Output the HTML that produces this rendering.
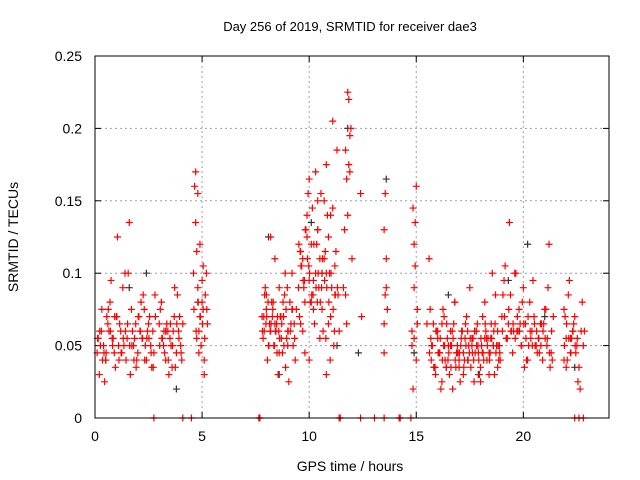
<!DOCTYPE html>
<html><head><meta charset="utf-8">
<style>
body{margin:0;background:#fff;}
svg{display:block;font-family:"Liberation Sans",sans-serif;}
</style></head>
<body>
<svg id="chart" width="640" height="480">
<text x="350" y="31" font-size="13" text-anchor="middle">Day 256 of 2019, SRMTID for receiver dae3</text>
<text x="18" y="237" font-size="14" text-anchor="middle" transform="rotate(-90 18 237)">SRMTID / TECUs</text>
<text x="350" y="471" font-size="14" text-anchor="middle">GPS time / hours</text>
<g id="grid"></g>
<g id="ticks"></g>
<g id="black"></g>
<g id="red"></g>
<rect x="95" y="56" width="514" height="362" fill="none" stroke="#000" stroke-width="1"/>
</svg>
<script>
const xTicks=[0,5,10,15,20];
const yTicks=[0,0.05,0.1,0.15,0.2,0.25];
const yTickLabels=["0","0.05","0.1","0.15","0.2","0.25"];
const redT=[0.1,0.2,0.3,0.4,0.5,0.6,0.7,0.8,0.9,1.0,1.1,1.2,1.3,1.4,1.5,1.6,1.7,1.8,1.9,2.0,2.1,2.2,2.3,2.4,2.5,2.6,2.7,2.8,0.15,0.35,0.55,0.75,0.95,1.15,1.35,1.55,1.75,1.95,2.15,2.35,2.55,2.75,0.25,0.65,1.05,1.45,1.85,2.25,2.65,0.45,0.85,1.25,1.65,2.05,2.45,
3.0,3.1,3.2,3.3,3.4,3.5,3.6,3.7,3.8,3.9,4.0,4.1,3.05,3.25,3.45,3.65,3.85,4.05,3.15,3.55,3.95,3.35,3.75,
4.6,4.65,4.7,4.75,4.8,4.85,4.9,4.95,5.0,5.05,5.1,5.15,5.2,5.25,4.7,4.8,4.9,5.0,5.1,4.75,4.85,5.05,
7.8,7.9,8.0,8.1,8.2,8.3,8.4,8.5,8.6,8.7,8.8,8.9,9.0,9.1,9.2,9.3,9.4,7.85,7.95,8.05,8.15,8.25,8.35,8.45,8.55,8.65,8.75,8.85,8.95,9.05,9.15,9.25,9.35,8.0,8.2,8.4,8.6,8.8,9.0,
9.5,9.6,9.7,9.8,9.9,10.0,10.1,10.2,10.3,10.4,10.5,10.6,10.7,10.8,10.9,11.0,11.1,11.2,11.3,11.4,9.55,9.65,9.75,9.85,9.95,10.05,10.15,10.25,10.35,10.45,10.55,10.65,10.75,10.85,10.95,11.05,11.15,11.25,11.35,9.6,9.8,10.0,10.2,10.4,10.6,10.8,11.0,11.2,9.7,9.9,10.1,10.3,10.5,10.7,10.9,11.1,10.0,10.4,10.8,
11.6,11.65,11.7,11.75,11.8,11.85,11.9,11.95,12.0,11.7,11.8,11.9,11.75,11.85,12.4,12.45,
13.5,13.55,13.6,13.5,13.55,13.6,13.65,13.5,
14.8,14.85,14.9,14.95,15.0,15.05,14.9,15.0,14.85,14.95,15.05,14.9,
15.6,15.7,15.8,15.9,16.0,16.1,16.2,16.3,16.4,16.5,16.6,16.7,16.8,16.9,17.0,17.1,17.2,17.3,17.4,17.5,17.6,17.7,17.8,17.9,18.0,18.1,18.2,18.3,18.4,18.5,18.6,18.7,18.8,18.9,15.65,15.75,15.85,15.95,16.05,16.15,16.25,16.35,16.45,16.55,16.65,16.75,16.85,16.95,17.05,17.15,17.25,17.35,17.45,17.55,17.65,17.75,17.85,17.95,18.05,18.15,18.25,18.35,18.45,18.55,18.65,18.75,18.85,16.0,16.4,16.8,17.2,17.6,18.0,18.4,18.8,16.2,16.6,17.0,17.4,17.8,18.2,18.6,
19.0,19.1,19.2,19.3,19.4,19.5,19.6,19.7,19.8,19.9,20.0,20.1,20.2,20.3,20.4,20.5,20.6,20.7,20.8,20.9,21.0,21.1,21.2,21.3,21.4,19.05,19.25,19.45,19.65,19.85,20.05,20.25,20.45,20.65,20.85,21.05,21.25,19.15,19.55,19.95,20.35,20.75,21.15,19.35,19.75,20.15,20.55,20.95,21.35,
21.9,22.0,22.1,22.2,22.3,22.4,22.5,22.6,22.7,22.8,21.95,22.05,22.15,22.25,22.35,22.45,22.55,22.65,22.75,22.85,22.0,22.2,22.4,22.6,22.8,
2.75,4.1,4.5,7.65,7.7,11.4,11.45,12.4,13.05,13.5,14.2,14.25,14.75,14.8,15.5,21.9,
0.12,0.32,0.52,0.72,0.92,1.12,1.32,1.52,1.72,1.92,2.12,2.32,2.52,2.72,0.22,0.42,0.62,0.82,1.02,1.22,1.42,1.62,1.82,2.02,2.22,2.42,2.62,2.82,
3.02,3.22,3.42,3.62,3.82,4.02,3.12,3.32,3.52,3.72,3.92,
4.62,4.72,4.82,4.92,5.02,5.12,5.22,
7.82,7.92,8.02,8.12,8.22,8.32,8.42,8.52,8.62,8.72,8.82,8.92,9.02,9.12,9.22,9.32,7.88,7.98,8.08,8.18,8.28,8.38,8.48,8.58,8.68,8.78,8.88,8.98,
9.52,9.62,9.72,9.82,9.92,10.02,10.12,10.22,10.32,10.42,10.52,10.62,10.72,10.82,10.92,11.02,11.12,11.22,11.32,9.58,9.78,9.98,10.18,10.38,10.58,10.78,10.98,11.18,
15.62,15.72,15.82,15.92,16.02,16.12,16.22,16.32,16.42,16.52,16.62,16.72,16.82,16.92,17.02,17.12,17.22,17.32,17.42,17.52,17.62,17.72,17.82,17.92,18.02,18.12,18.22,18.32,18.42,18.52,18.62,18.72,18.82,18.92,15.68,15.88,16.08,16.28,16.48,16.68,16.88,17.08,17.28,17.48,17.68,17.88,18.08,18.28,18.48,18.68,18.88,
19.02,19.12,19.22,19.32,19.42,19.52,19.62,19.72,19.82,19.92,20.02,20.12,20.22,20.32,20.42,20.52,20.62,20.72,20.82,20.92,21.02,21.12,21.22,21.32,
21.92,22.02,22.12,22.22,22.32,22.42,22.52,22.62,22.72,22.82];
const redV=[0.045,0.03,0.06,0.05,0.04,0.065,0.08,0.055,0.045,0.07,0.05,0.06,0.09,0.1,0.055,0.135,0.075,0.05,0.065,0.045,0.06,0.055,0.075,0.04,0.065,0.05,0.06,0.085,0.055,0.04,0.07,0.095,0.035,0.065,0.05,0.1,0.06,0.04,0.08,0.05,0.07,0.045,0.05,0.06,0.125,0.04,0.055,0.085,0.035,0.025,0.055,0.045,0.03,0.07,0.06,
0.065,0.08,0.05,0.04,0.06,0.055,0.035,0.07,0.045,0.06,0.05,0.065,0.075,0.045,0.03,0.06,0.085,0.04,0.055,0.05,0.07,0.065,0.035,
0.1,0.16,0.135,0.115,0.09,0.06,0.07,0.05,0.095,0.075,0.04,0.085,0.1,0.065,0.17,0.155,0.12,0.08,0.03,0.055,0.045,0.105,
0.07,0.06,0.085,0.05,0.125,0.075,0.065,0.045,0.09,0.055,0.07,0.035,0.06,0.08,0.1,0.065,0.075,0.055,0.09,0.04,0.065,0.08,0.05,0.06,0.03,0.07,0.045,0.085,0.055,0.025,0.065,0.05,0.04,0.075,0.06,0.11,0.045,0.07,0.05,
0.09,0.065,0.11,0.08,0.14,0.165,0.12,0.095,0.17,0.13,0.11,0.075,0.15,0.1,0.125,0.14,0.205,0.085,0.185,0.06,0.07,0.105,0.09,0.13,0.155,0.08,0.145,0.065,0.12,0.09,0.155,0.06,0.115,0.14,0.1,0.09,0.05,0.115,0.085,0.115,0.045,0.095,0.075,0.13,0.1,0.175,0.07,0.105,0.06,0.125,0.08,0.1,0.055,0.11,0.065,0.145,0.04,0.15,0.03,0.09,
0.13,0.185,0.165,0.225,0.22,0.17,0.2,0.11,0.085,0.14,0.195,0.065,0.175,0.155,0.07,0.045,
0.155,0.11,0.13,0.085,0.09,0.075,0.065,0.06,
0.145,0.12,0.105,0.16,0.065,0.09,0.04,0.02,0.135,0.075,0.055,0.11,
0.04,0.065,0.03,0.055,0.045,0.025,0.07,0.035,0.05,0.06,0.02,0.08,0.045,0.035,0.055,0.03,0.065,0.04,0.09,0.05,0.025,0.06,0.045,0.035,0.07,0.055,0.04,0.03,0.065,0.05,0.085,0.06,0.045,0.075,0.05,0.035,0.06,0.045,0.02,0.075,0.04,0.055,0.03,0.05,0.065,0.035,0.045,0.025,0.06,0.04,0.07,0.05,0.035,0.055,0.045,0.065,0.03,0.05,0.04,0.06,0.055,0.045,0.1,0.03,0.05,0.04,0.06,0.035,0.08,0.045,0.055,0.025,0.045,0.035,0.065,0.05,0.04,0.06,
0.06,0.08,0.05,0.07,0.095,0.055,0.065,0.085,0.045,0.1,0.06,0.075,0.05,0.09,0.065,0.04,0.08,0.06,0.07,0.05,0.055,0.065,0.04,0.075,0.05,0.12,0.045,0.07,0.085,0.055,0.06,0.1,0.065,0.035,0.05,0.095,0.045,0.065,0.075,0.035,0.105,0.06,0.08,0.055,0.045,0.09,0.135,0.06,0.04,
0.05,0.065,0.04,0.075,0.055,0.085,0.045,0.06,0.07,0.05,0.035,0.06,0.05,0.07,0.04,0.095,0.055,0.065,0.045,0.025,0.02,0.08,0.06,0.035,0.055,
0,0,0,0,0,0,0,0,0,0,0,0,0,0,0,0,
0.05,0.065,0.04,0.055,0.075,0.045,0.06,0.07,0.04,0.055,0.065,0.05,0.035,0.06,0.04,0.055,0.035,0.06,0.045,0.075,0.05,0.07,0.045,0.06,0.05,0.04,0.07,0.055,
0.055,0.045,0.07,0.05,0.06,0.04,0.05,0.065,0.045,0.055,0.06,
0.065,0.09,0.055,0.075,0.06,0.08,0.07,
0.065,0.055,0.075,0.06,0.085,0.07,0.05,0.065,0.08,0.06,0.07,0.055,0.065,0.05,0.075,0.06,0.06,0.075,0.055,0.07,0.065,0.08,0.06,0.07,0.05,0.065,0.06,0.07,
0.08,0.1,0.09,0.12,0.105,0.095,0.13,0.11,0.1,0.085,0.12,0.09,0.1,0.08,0.11,0.095,0.09,0.08,0.1,0.075,0.085,0.09,0.115,0.095,0.105,0.085,0.08,0.09,
0.055,0.04,0.06,0.045,0.05,0.035,0.06,0.045,0.055,0.04,0.05,0.065,0.045,0.035,0.055,0.04,0.05,0.045,0.06,0.035,0.05,0.04,0.055,0.045,0.06,0.05,0.04,0.055,0.045,0.065,0.05,0.04,0.055,0.06,0.045,0.05,0.04,0.055,0.035,0.045,0.05,0.04,0.06,0.045,0.05,0.055,0.045,0.04,0.05,0.045,0.055,
0.055,0.065,0.05,0.06,0.07,0.055,0.075,0.06,0.065,0.055,0.07,0.06,0.05,0.065,0.055,0.07,0.06,0.05,0.065,0.06,0.055,0.05,0.06,0.055,
0.055,0.045,0.06,0.05,0.065,0.055,0.045,0.06,0.05,0.055];
const blackT=[0.5,1.6,2.4,3.3,3.8,4.8,8.1,8.6,9.2,10.1,10.6,11.3,11.8,12.3,13.6,14.9,16.5,17.9,19.3,20.2,21.0,22.4];
const blackV=[0.04,0.09,0.1,0.06,0.02,0.08,0.125,0.03,0.075,0.135,0.1,0.05,0.2,0.045,0.165,0.045,0.085,0.03,0.095,0.12,0.07,0.035];
const X=t=>95+t*(514/24), Y=v=>418-v*1448;
const NS="http://www.w3.org/2000/svg";
function mk(tag,attrs,parent){const e=document.createElementNS(NS,tag);for(const k in attrs)e.setAttribute(k,attrs[k]);parent.appendChild(e);return e;}
const grid=document.getElementById('grid'),ticks=document.getElementById('ticks');
xTicks.forEach(t=>{
  const l=mk('line',{x1:X(t),x2:X(t),y1:56,y2:418,stroke:'#a0a0a0','stroke-dasharray':'2,3'},grid);
  
  
  mk('line',{x1:X(t),x2:X(t),y1:418,y2:412,stroke:'#000'},ticks);
  mk('line',{x1:X(t),x2:X(t),y1:56,y2:62,stroke:'#000'},ticks);
  const tx=mk('text',{x:X(t),y:441,'font-size':14,'text-anchor':'middle'},ticks);
  tx.textContent=t;
  
  
});
yTicks.forEach((v,i)=>{
  const l=mk('line',{x1:95,x2:609,y1:Y(v),y2:Y(v),stroke:'#a0a0a0','stroke-dasharray':'2,3'},grid);
  
  
  mk('line',{x1:95,x2:101,y1:Y(v),y2:Y(v),stroke:'#000'},ticks);
  mk('line',{x1:603,x2:609,y1:Y(v),y2:Y(v),stroke:'#000'},ticks);
  const tx=mk('text',{x:82,y:Y(v)+5,'font-size':14,'text-anchor':'end'},ticks);
  tx.textContent=yTickLabels[i];
  
  
});
function plot(ts,vs,g,color,name){
  ts.forEach((t,i)=>{
    const x=X(t),y=Y(vs[i]);
    const p=mk('path',{d:`M${x-3.5},${y}h7M${x},${y-3.5}v7`,stroke:color,'stroke-width':1.2,fill:'none'},g);
    
    
  });
}
plot(blackT,blackV,document.getElementById('black'),'#333','black-point');
plot(redT,redV,document.getElementById('red'),'#ff0000','red-point');
</script>
</body></html>
